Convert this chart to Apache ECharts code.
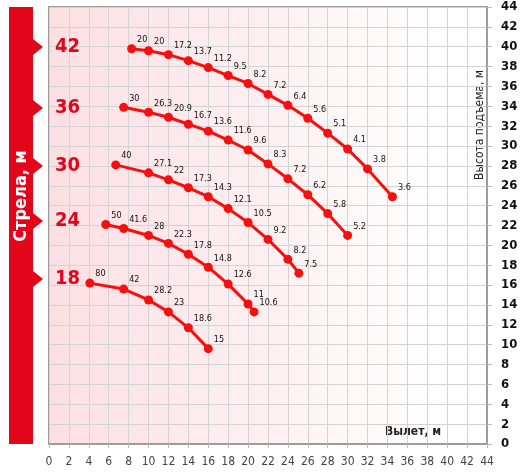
<!DOCTYPE html>
<html>
<head>
<meta charset="utf-8">
<script src="https://cdn.jsdelivr.net/npm/echarts@6/dist/echarts.min.js"></script>
<style>
  html, body { margin: 0; padding: 0; background: #fff; }
  #chart { width: 526px; height: 472px; }
</style>
</head>
<body>
<div id="chart"></div>
<script>
// длина стрелы, м
const booms = ['42', '36', '30', '24', '18'];

// вылет, м
const reach42 = [8.3, 10, 12, 14, 16, 18, 20, 22, 24, 26, 28, 30, 32, 34.5];
const reach36 = [7.5, 10, 12, 14, 16, 18, 20, 22, 24, 26, 28, 30];
const reach30 = [6.7, 10, 12, 14, 16, 18, 20, 22, 24, 25.1];
const reach24 = [5.7, 7.5, 10, 12, 14, 16, 18, 20, 20.6];
const reach18 = [4.1, 7.5, 10, 12, 14, 16];

// высота подъема, м
const height42 = [39.8, 39.6, 39.2, 38.6, 37.9, 37.1, 36.3, 35.2, 34.1, 32.8, 31.3, 29.7, 27.7, 24.9];
const height36 = [33.9, 33.4, 32.9, 32.2, 31.5, 30.6, 29.6, 28.2, 26.7, 25.1, 23.2, 21.0];
const height30 = [28.1, 27.3, 26.6, 25.8, 24.9, 23.7, 22.3, 20.6, 18.6, 17.2];
const height24 = [22.1, 21.7, 21.0, 20.2, 19.1, 17.8, 16.1, 14.1, 13.3];
const height18 = [16.2, 15.6, 14.5, 13.3, 11.7, 9.6];

// грузоподъемность, т (подписи точек)
const load42 = ['20', '20', '17.2', '13.7', '11.2', '9.5', '8.2', '7.2', '6.4', '5.6', '5.1', '4.1', '3.8', '3.6'];
const load36 = ['30', '26.3', '20.9', '16.7', '13.6', '11.6', '9.6', '8.3', '7.2', '6.2', '5.8', '5.2'];
const load30 = ['40', '27.1', '22', '17.3', '14.3', '12.1', '10.5', '9.2', '8.2', '7.5'];
const load24 = ['50', '41.6', '28', '22.3', '17.8', '14.8', '12.6', '11', '10.6'];
const load18 = ['80', '42', '28.2', '23', '18.6', '15'];

// оси
const axisMin = 0;
const axisMax = 44;
const axisStep = 2;

const reaches = [reach42, reach36, reach30, reach24, reach18];
const heights = [height42, height36, height30, height24, height18];
const loads = [load42, load36, load30, load24, load18];

const FONT = "'Liberation Sans Narrow', 'DejaVu Sans Condensed', sans-serif";
const RED = '#e3061b';
const LINE = '#f50f0f';

const chart = echarts.init(document.getElementById('chart'));

const series = booms.map(function (b, i) {
    const lbl = loads[i];
    return {
        name: b,
        type: 'line',
        data: reaches[i].map(function (x, j) { return [x, heights[i][j]]; }),
        symbol: 'circle',
        symbolSize: 9,
        smooth: false,
        lineStyle: { color: LINE, width: 3 },
        itemStyle: { color: LINE },
        label: {
            show: true,
            position: 'right',
            distance: 1,
            offset: [0, -9],
            color: '#111',
            fontSize: 9,
            fontFamily: FONT,
            formatter: function (p) { return lbl[p.dataIndex]; }
        },
        z: 3
    };
});

// боковая плашка и метки стрелы
const labelY = [47, 108, 166, 221, 279];
const graphics = [
    { type: 'rect', shape: { x: 9, y: 7, width: 24, height: 437 }, style: { fill: RED } },
    {
        type: 'text', x: 21, y: 196, rotation: Math.PI / 2,
        style: { text: 'Стрела, м', fill: '#fff', font: 'bold 18px ' + FONT, align: 'center', verticalAlign: 'middle' }
    },
    {
        type: 'text', x: 480, y: 125, rotation: Math.PI / 2,
        style: { text: 'Высота подъема, м', fill: '#222', font: '12px ' + FONT, align: 'center', verticalAlign: 'middle' }
    },
    {
        type: 'text', x: 413, y: 432,
        style: { text: 'Вылет, м', fill: '#222', font: 'bold 12px ' + FONT, align: 'center', verticalAlign: 'middle' }
    }
];
booms.forEach(function (b, i) {
    const y = labelY[i];
    graphics.push({
        type: 'polygon',
        shape: { points: [[33, y - 8], [43, y], [33, y + 8]] },
        style: { fill: RED }
    });
    graphics.push({
        type: 'text', x: 55, y: y, z: 10,
        style: { text: b, fill: RED, font: 'bold 20px ' + FONT, verticalAlign: 'middle' }
    });
});

const options = {
    animation: false,
    grid: {
        left: 49,
        right: 39,
        top: 7,
        bottom: 28,
        show: true,
        borderColor: '#9c9c9c',
        borderWidth: 2,
        backgroundColor: {
            type: 'linear', x: 0, y: 0, x2: 1, y2: 0,
            colorStops: [
                { offset: 0, color: '#fcdfe3' },
                { offset: 0.5, color: '#fdf0f2' },
                { offset: 0.9, color: '#ffffff' }
            ]
        }
    },
    xAxis: {
        type: 'value',
        min: axisMin,
        max: axisMax,
        interval: axisStep,
        axisLine: { show: true, onZero: false, lineStyle: { color: '#9c9c9c', width: 2 } },
        axisTick: { show: true, length: 4, lineStyle: { color: '#bbb' } },
        axisLabel: { color: '#444', fontSize: 12, fontFamily: FONT, margin: 12 },
        splitLine: { show: true, lineStyle: { color: '#d3d3d3', width: 1 } }
    },
    yAxis: {
        type: 'value',
        position: 'right',
        min: axisMin,
        max: axisMax,
        interval: axisStep,
        axisLine: { show: true, onZero: false, lineStyle: { color: '#9c9c9c', width: 2 } },
        axisTick: { show: true, length: 5, lineStyle: { color: '#bbb' } },
        axisLabel: { color: '#111', fontSize: 13, fontWeight: 'bold', fontFamily: FONT, margin: 14 },
        splitLine: { show: true, lineStyle: { color: '#d3d3d3', width: 1 } }
    },
    graphic: graphics,
    series: series
};

chart.setOption(options);
</script>
</body>
</html>
